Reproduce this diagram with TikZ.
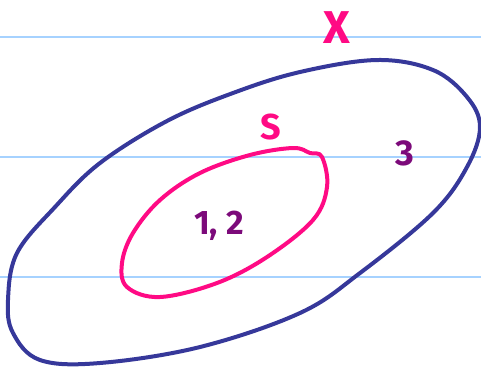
\documentclass[tikz,border=0pt]{standalone}
\usepackage{fontspec}
\setmainfont{Fira Sans}
\usepackage{tikz}
\usetikzlibrary{positioning}
\usepackage{xcolor}
\definecolor{SetBlue}{HTML}{36389A}
\definecolor{SetPink}{HTML}{FF0A84}
\definecolor{SetPurple}{HTML}{7C0A7A}
\definecolor{RuleBlue}{HTML}{A6D2FF}
\begin{document}
\begin{tikzpicture}[x=1pt,y=-1pt,every node/.style={inner sep=0pt,font=\bfseries\fontsize{34}{38}\selectfont},
    setline/.style={line width=4pt,line cap=round,line join=round},
    rule/.style={RuleBlue,line width=1.6pt}]
    \useasboundingbox (0,0) rectangle (481,373);
    \foreach \y in {37,157,277}{\draw[rule] (0,\y)--(481,\y);}
    % outer set
    \draw[setline,SetBlue] plot[smooth cycle,tension=0.6] coordinates {(377,60) (433,70) (467,97) (480,127) (467,167) (433,213) (360,273) (300,313) (200,347) (100,363) (40,360) (13,333) (8,300) (17,253) (55,207) (100,163) (167,121) (233,93) (300,72)};
    % inner set
    \draw[setline,SetPink] plot[smooth cycle,tension=0.6] coordinates {(293,148) (310,153) (322,157) (327,187) (313,220) (267,257) (217,283) (160,297) (127,287) (122,263) (133,233) (160,200) (200,173) (250,155)};
    \node[SetPink,font=\bfseries\fontsize{46}{50}\selectfont] (labx) at (337,28) {X};
    \node[SetPink,font=\bfseries\fontsize{36}{40}\selectfont] (labs) at (271,127) {S};
    \node[SetPurple,font=\bfseries\fontsize{36}{40}\selectfont] (lab3) at (405,153) {3};
    \node[SetPurple] (lab12) at (219,226) {1, 2};
\end{tikzpicture}
\end{document}
